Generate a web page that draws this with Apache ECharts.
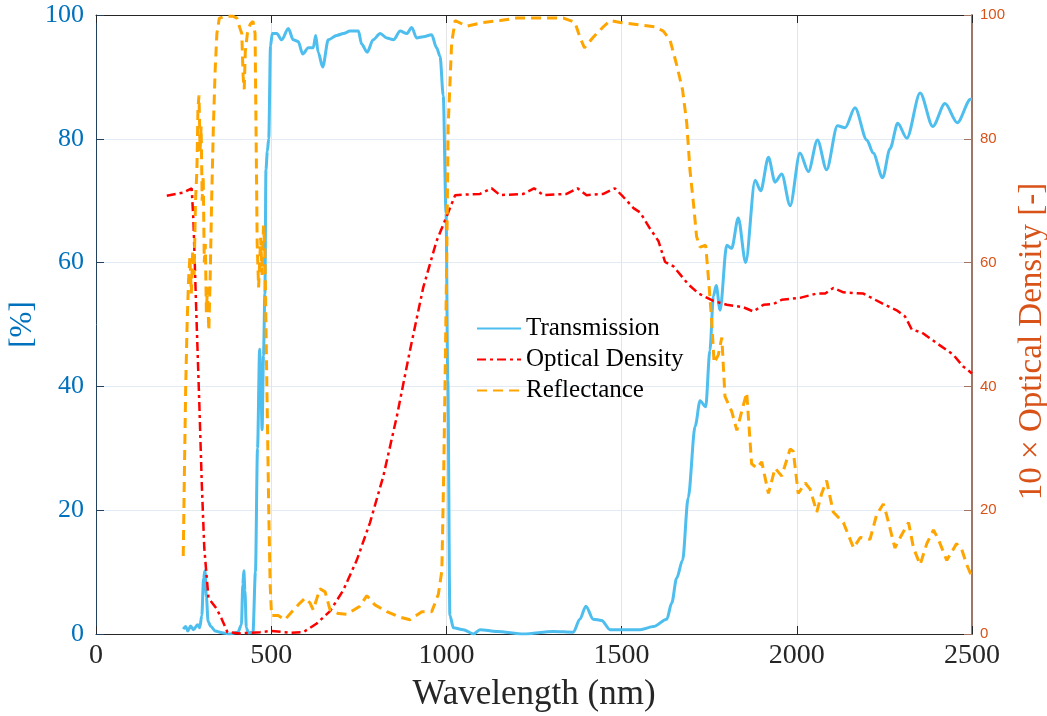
<!DOCTYPE html>
<html>
<head>
<meta charset="utf-8">
<script src="https://cdn.jsdelivr.net/npm/echarts@6/dist/echarts.min.js"></script>
<style>
  html, body { margin: 0; padding: 0; background: #fff; }
  #chart { width: 1047px; height: 716px; }
</style>
</head>
<body>
<div id="chart"></div>
<script>
// Wavelength axis ticks (nm) and the shared 0–100 value ticks
const xTicks = [0, 500, 1000, 1500, 2000, 2500];
const yTicks = [0, 20, 40, 60, 80, 100];

// Transmission [%]
const transWl = [249,256,262,270,278,290,296,302,307,311,315,320,328,340,360,380,405,415,419,422,425,429,435,448,455,461,467,470,474,478,482,485,489,493,498,503,516,530,549,563,577,590,606,620,627,634,647,663,687,706,725,749,758,774,791,811,830,849,868,887,901,915,934,958,972,982,991,999,1004,1010,1020,1048,1077,1096,1144,1220,1305,1362,1381,1398,1419,1443,1467,1505,1553,1591,1629,1643,1657,1674,1690,1710,1724,1740,1752,1762,1770,1781,1800,1814,1833,1854,1881,1897,1919,1938,1957,1981,2009,2033,2059,2085,2116,2138,2166,2200,2218,2245,2266,2288,2314,2352,2388,2423,2458,2496,2500];
const transVal = [0.8,1.2,0.5,1.3,0.7,1.5,1.0,3,9,10.2,6,2,1.2,0.5,0.2,0,0.3,1.5,8,10.2,7,1,0.2,0.3,10,30,46,42,33,45,55,75,78,80,95,97,97,96,97.8,96,95.7,93.7,94.7,94.7,96.7,94,91.6,96,96.7,97,97.4,97.4,95.3,94,96,97,96.3,96,97.4,97,98,96.3,96.5,96.8,94.7,93.3,87,68,41,3,1,0.7,0,0.7,0.4,0,0.4,0.3,2.4,4.5,2.4,2.2,0.7,0.7,0.7,1.2,2.4,5,9,11.9,22,33.6,37.7,36.7,45.8,54.6,56.3,52.3,62.8,62.3,67.2,60,73.3,71.6,77,73,74.3,69.2,77.7,74.7,79.8,75,82.1,81.8,85,79.8,77.7,73.7,78.4,82.5,80.1,87.4,82,85.7,82.6,86.4,86.4];

// 10 × Optical Density [-]
const odWl = [202,249,273,278,287,295,302,309,321,344,359,375,411,468,501,554,592,630,668,706,744,782,820,858,896,934,972,1001,1025,1096,1129,1153,1220,1250,1277,1343,1374,1400,1448,1481,1505,1534,1553,1581,1605,1624,1648,1690,1720,1762,1800,1847,1876,1905,1933,1957,2009,2057,2081,2104,2133,2190,2247,2285,2309,2328,2357,2399,2447,2475,2500];
const odVal = [70.8,71.3,72,66.9,50.6,37,24.1,13.9,5.8,4.1,2.4,0.3,0.1,0.3,0.5,0.2,0.3,1.7,3.7,7.1,11.9,18,25.5,35,45.8,56,63.5,67.5,70.9,71.1,72,70.9,71.1,72,70.9,71.1,72,70.9,71.1,72,70.6,68.8,68.1,65.5,63.5,60.1,59.4,56.5,55,53.8,53.2,52.8,52.1,53.2,53.3,54,54.3,55,55,55.9,55.2,55,53.3,52.3,51.3,49.2,48.7,47,45.1,43.2,42.1];

// Reflectance [%]
const reflWl = [249,252,256,260,264,268,272,276,280,284,288,291,294,297,300,303,306,309,312,315,318,322,326,330,335,340,345,352,370,390,402,410,416,420,423,426,432,440,448,454,457,460,464,467,470,474,478,482,485,489,493,497,501,506,520,539,559,582,597,611,620,639,654,668,692,716,739,753,773,796,830,868,896,930,958,977,987,992,996,1001,1005,1015,1025,1058,1105,1153,1201,1267,1334,1367,1381,1394,1419,1448,1467,1496,1553,1595,1619,1638,1657,1674,1686,1695,1705,1714,1724,1740,1750,1757,1764,1776,1786,1795,1814,1829,1843,1857,1871,1886,1900,1919,1938,1957,1981,1990,2004,2024,2038,2057,2071,2085,2104,2133,2162,2181,2209,2228,2247,2256,2280,2299,2319,2333,2352,2371,2390,2404,2428,2456,2471,2485,2499];
const reflVal = [12.6,25,40,50,57,61,55,62,58,70,75,85,87,78,82,70,74,60,63,52,56,49,58,70,82,91,97,99.5,99.8,99.8,99.5,98,97,90,88,94,97,98.5,99,97,80,63,56,60,64,58,66,62,50,35,20,8,3,2.7,3,2.3,3.6,5,5.8,5,3.9,7.3,6.8,3.9,3.3,3.2,4,4.5,6.2,4.7,3.6,2.7,2.3,3.6,3.6,6.4,10.2,25,40,61,82,95.5,99.1,98.2,98.8,99.1,99.5,99.5,99.5,98.8,96.4,94.7,96.4,98.1,99.1,98.8,98.4,98.1,97.4,96,92,87.9,82.5,75,69.6,64.2,62.5,62.8,56,50.6,43.8,45.1,47.9,38.4,36,32.9,36,39,27.5,26.8,27.8,22.7,26.8,25.5,29.9,29.5,22.7,24.4,23.4,19.7,22.7,24.8,19.7,18,13.9,15.6,15.3,19.3,21,19.3,13.9,16,18,13.9,11.2,14.6,16.8,15.3,11.9,14.6,13.6,11.2,9.3];

const zip = (xs, ys) => xs.map((x, i) => [x, ys[i]]);
const plain = v => String(v);

const SERIF = "'Liberation Serif', 'Times New Roman', serif";
const SANS = "'Liberation Sans', Arial, sans-serif";
const BLUE_TXT = '#0072BD';
const ORANGE_TXT = '#D95319';
const AX = '#262626';
const LEFT_AX = '#23405c';
const RIGHT_AX = '#a07766';

const chart = echarts.init(document.getElementById('chart'), null, { renderer: 'canvas' });

chart.setOption({
  animation: false,
  backgroundColor: '#ffffff',
  grid: { left: 96, right: 75, top: 15, bottom: 82, containLabel: false, outerBoundsMode: 'none' },
  legend: {
    orient: 'vertical',
    left: 471,
    top: 311,
    itemWidth: 44,
    itemHeight: 14,
    itemGap: 6,
    itemStyle: { opacity: 0 },
    textStyle: { fontFamily: SERIF, fontSize: 25, color: '#000' },
    data: ['Transmission', 'Optical Density', 'Reflectance']
  },
  xAxis: [
    {
      type: 'value', min: xTicks[0], max: xTicks[xTicks.length - 1], interval: 500,
      position: 'bottom',
      name: 'Wavelength (nm)', nameLocation: 'middle', nameGap: 43,
      nameTextStyle: { fontFamily: SERIF, fontSize: 35, color: AX },
      axisLine: { show: true, onZero: false, lineStyle: { color: AX, width: 1 } },
      axisTick: { show: true, inside: true, length: 8, lineStyle: { color: AX } },
      axisLabel: { fontFamily: SERIF, fontSize: 28, color: AX, margin: 8, formatter: plain },
      splitLine: { show: true, lineStyle: { color: '#e4e4e4', width: 1 } }
    },
    {
      type: 'value', min: xTicks[0], max: xTicks[xTicks.length - 1], interval: 500,
      position: 'top',
      axisLine: { show: true, onZero: false, lineStyle: { color: AX, width: 1 } },
      axisTick: { show: true, inside: true, length: 8, lineStyle: { color: AX } },
      axisLabel: { show: false },
      splitLine: { show: false }
    }
  ],
  yAxis: [
    {
      type: 'value', min: yTicks[0], max: yTicks[yTicks.length - 1], interval: 20,
      position: 'left',
      name: '[%]', nameLocation: 'middle', nameGap: 58, nameRotate: 90,
      nameMoveOverlap: false,
      nameTextStyle: { fontFamily: SERIF, fontSize: 31, color: BLUE_TXT },
      axisLine: { show: true, onZero: false, lineStyle: { color: LEFT_AX, width: 1 } },
      axisTick: { show: true, inside: true, length: 8, lineStyle: { color: LEFT_AX } },
      axisLabel: { fontFamily: SERIF, fontSize: 26, color: BLUE_TXT, margin: 12, formatter: plain },
      splitLine: { show: true, lineStyle: { color: '#e2ebf3', width: 1 } }
    },
    {
      type: 'value', min: yTicks[0], max: yTicks[yTicks.length - 1], interval: 20,
      position: 'right',
      name: '10 × Optical Density [-]', nameLocation: 'middle', nameGap: 44, nameRotate: 90,
      nameTextStyle: { fontFamily: SERIF, fontSize: 33, color: ORANGE_TXT, padding: [0, 34, 0, 0] },
      axisLine: { show: true, onZero: false, lineStyle: { color: RIGHT_AX, width: 2 } },
      axisTick: { show: true, inside: true, length: 8, lineStyle: { color: RIGHT_AX } },
      axisLabel: { fontFamily: SANS, fontSize: 15, color: ORANGE_TXT, margin: 8, formatter: plain },
      splitLine: { show: false }
    }
  ],
  series: [
    {
      name: 'Transmission', type: 'line', xAxisIndex: 0, yAxisIndex: 0,
      data: zip(transWl, transVal),
      showSymbol: false, symbol: 'none',
      smooth: 0.3, smoothMonotone: 'x',
      lineStyle: { color: '#4DBEEE', width: 3 },
      itemStyle: { color: '#4DBEEE' }
    },
    {
      name: 'Optical Density', type: 'line', xAxisIndex: 0, yAxisIndex: 1,
      data: zip(odWl, odVal),
      showSymbol: false, symbol: 'none',
      lineStyle: { color: '#FF0000', width: 2.5, type: [9, 4, 3, 4] },
      itemStyle: { color: '#FF0000' }
    },
    {
      name: 'Reflectance', type: 'line', xAxisIndex: 0, yAxisIndex: 0,
      data: zip(reflWl, reflVal),
      showSymbol: false, symbol: 'none',
      lineStyle: { color: '#FFA500', width: 3, type: [10, 6] },
      itemStyle: { color: '#FFA500' }
    }
  ]
});
</script>
</body>
</html>
